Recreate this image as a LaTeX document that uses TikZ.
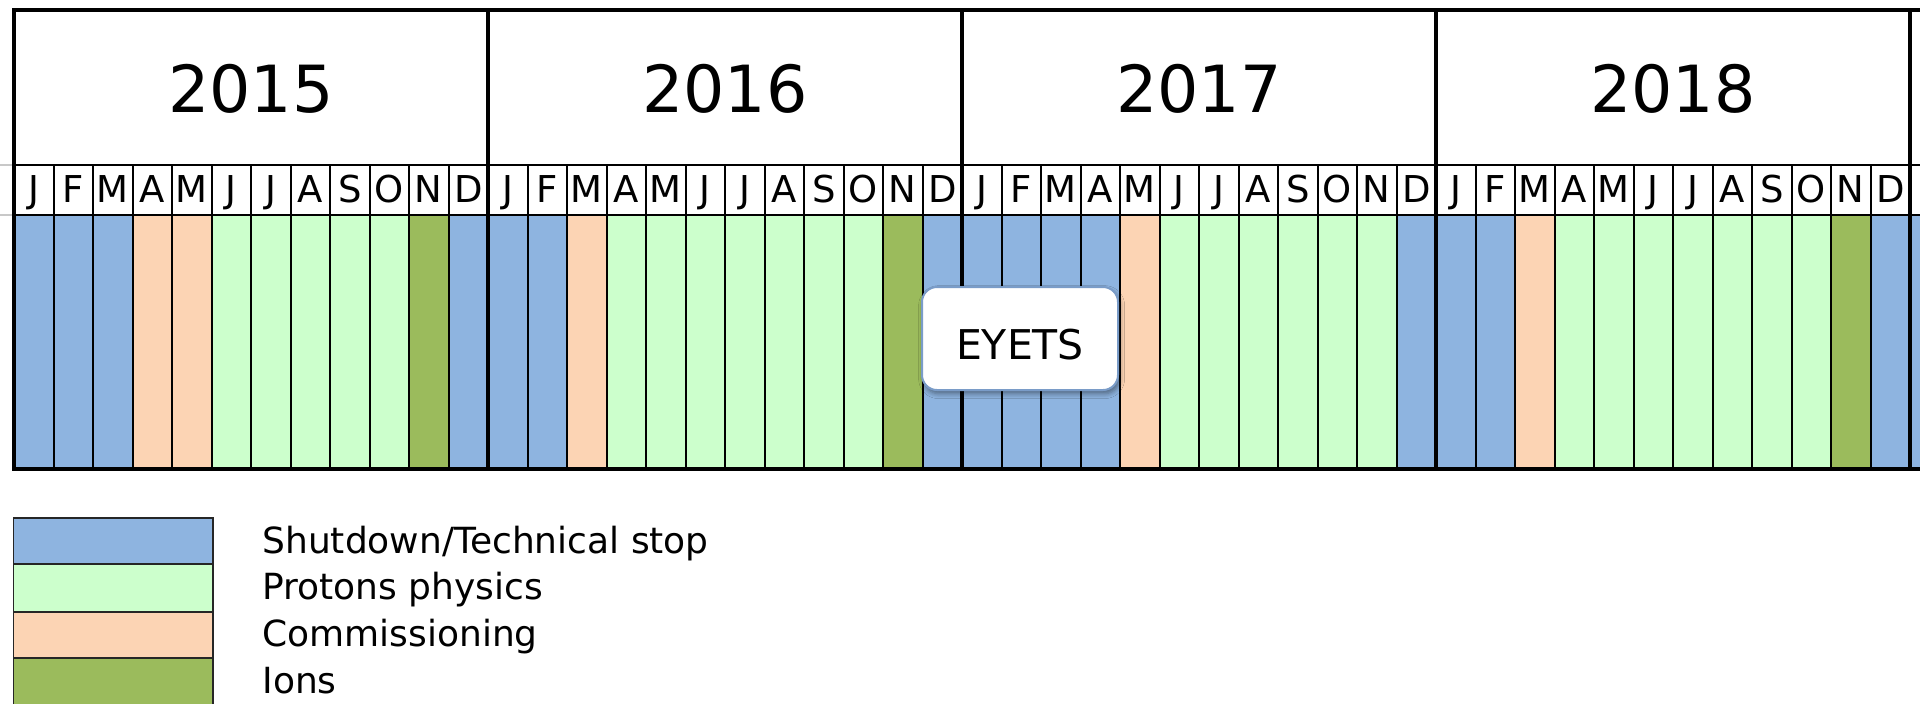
\documentclass[tikz,border=0pt]{standalone}
\usepackage{fontspec}
\setmainfont{DejaVu Sans}
\usetikzlibrary{shadows.blur}

\definecolor{stopblue}{HTML}{8EB4E0}
\definecolor{protongreen}{HTML}{CCFFCC}
\definecolor{commpeach}{HTML}{FCD4B4}
\definecolor{iongreen}{HTML}{9BBB5C}
\definecolor{rulegray}{HTML}{C8C8C8}
\definecolor{calloutedge}{HTML}{7A9CC8}

\begin{document}
\begin{tikzpicture}[x=0.5pt, y=-0.5pt,
  cellB/.style={fill=stopblue},
  cellP/.style={fill=protongreen},
  cellC/.style={fill=commpeach},
  cellI/.style={fill=iongreen},
  monthrule/.style={line width=1pt, black},
  yearrule/.style={line width=1.8pt, black},
  siderule/.style={line width=0.6pt, rulegray},
  yearlabel/.style={font=\fontsize{32.5}{38}\selectfont, inner sep=0pt, anchor=base},
  monthlabel/.style={font=\fontsize{18.5}{22}\selectfont, inner sep=0pt, anchor=base},
  legendbox/.style={draw=black!85, line width=0.9pt},
  legendtext/.style={font=\fontsize{18}{22}\selectfont, inner sep=0pt, anchor=base west},
  callout/.style={draw=calloutedge, line width=1pt, fill=white, rounded corners=7.5pt,
    minimum width=98pt, minimum height=51.5pt, inner sep=0pt,
    text height=20.5pt, text depth=0pt, font=\fontsize{20.5}{24}\selectfont,
    blur shadow={shadow xshift=0.8pt, shadow yshift=-1.8pt, shadow blur steps=6,
      shadow opacity=45, shadow blur radius=2.5pt}}
]
\useasboundingbox (0,0) rectangle (1920,703);
\clip (0,0) rectangle (1920,703);

% month cells, January 2015 to January 2019
\foreach \c [count=\i from 0] in {
    B,B,B,C,C,P,P,P,P,P,I,B,
    B,B,C,P,P,P,P,P,P,P,I,B,
    B,B,B,B,C,P,P,P,P,P,P,B,
    B,B,C,P,P,P,P,P,P,P,I,B,
    B}
  \fill[cell\c] ({14+\i*39.5},215) rectangle ++(39.5,254);

% horizontal rules of the month row
\draw[siderule] (0,165) -- (14,165);
\draw[siderule] (0,215) -- (14,215);
\draw[monthrule] (14,165) -- (1920,165);
\draw[monthrule] (14,215) -- (1920,215);

% month separators
\foreach \i in {1,...,48}{
  \pgfmathtruncatemacro{\r}{mod(\i,12)}
  \ifnum\r=0\else
    \draw[monthrule] ({14+\i*39.5},165) -- ({14+\i*39.5},469);
  \fi
}

% year separators and outer frame
\foreach \i in {12,24,36,48}
  \draw[yearrule] ({14+\i*39.5},10) -- ({14+\i*39.5},469);
\draw[yearrule, line join=miter] (1920,10) -- (14,10) -- (14,469) -- (1920,469);

% year headings
\foreach \yr [count=\n from 0] in {2015,2016,2017,2018}
  \node[yearlabel] (y\yr) at ({14+(\n*12+6)*39.5},112) {\yr};

% month initials
\foreach \n in {0,...,3}
  \foreach \m [count=\k from 0] in {J,F,M,A,M,J,J,A,S,O,N,D}
    \node[monthlabel] (m\n-\k) at ({14+(\n*12+\k+0.5)*39.5},202) {\m};

% year-end technical stop callout
\node[callout] (eyets) at (1020,338.5) {EYETS};

% legend
\draw[legendbox, cellB] (13.5,518) rectangle (213,564);
\draw[legendbox, cellP] (13.5,564) rectangle (213,612);
\draw[legendbox, cellC] (13.5,612) rectangle (213,658);
\draw[legendbox, cellI] (13.5,658) rectangle (213,710);
\node[legendtext] (lstop) at (262,553) {Shutdown/Technical stop};
\node[legendtext] (lprot) at (262,599) {Protons physics};
\node[legendtext] (lcomm) at (262,646) {Commissioning};
\node[legendtext] (lions) at (262,693) {Ions};
\end{tikzpicture}
\end{document}
